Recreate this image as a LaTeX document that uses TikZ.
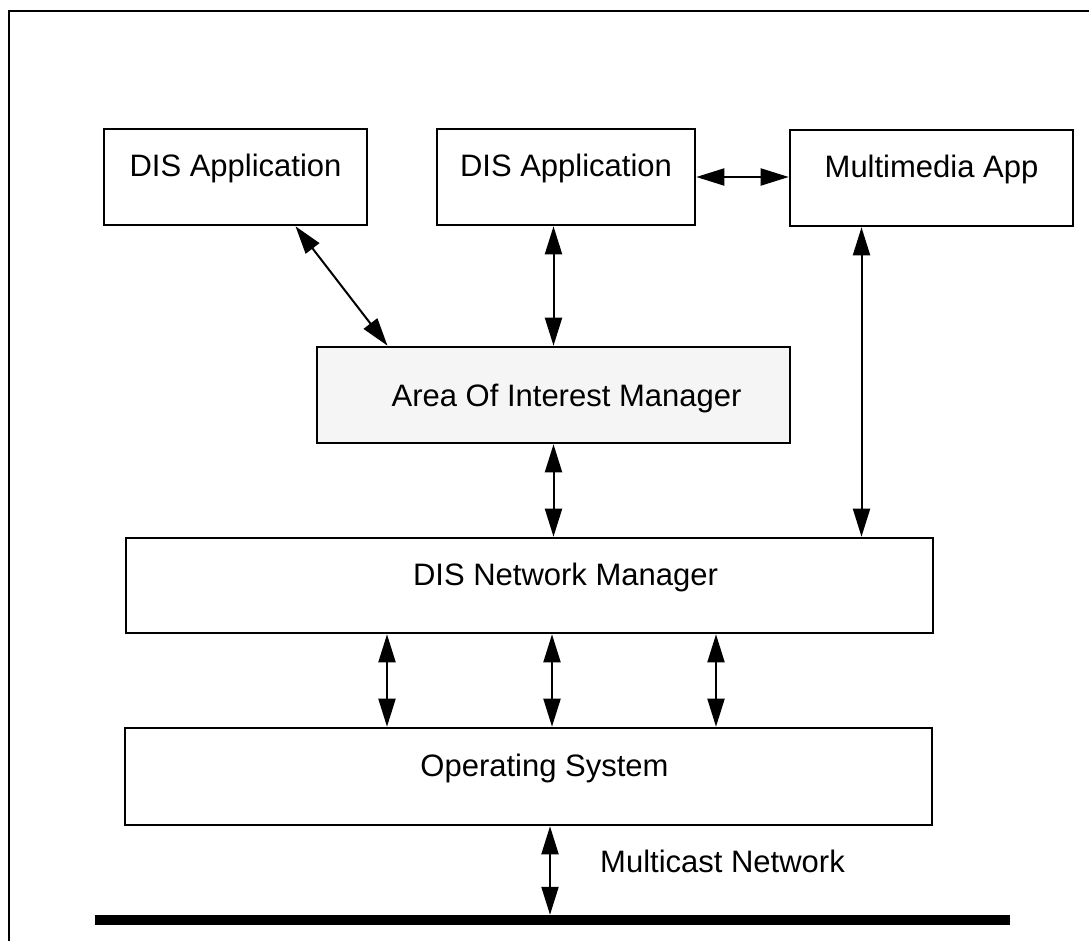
\documentclass[tikz,border=0pt]{standalone}
\usepackage{fontspec}
\setmainfont{Liberation Sans}
\usetikzlibrary{arrows.meta}

\begin{document}
\begin{tikzpicture}[
  x=1pt, y=-1pt,
  box/.style={draw, line width=2.6pt, minimum height=96pt, inner sep=0pt, text height=22pt, text depth=22pt, font=\fontsize{31pt}{37pt}\selectfont},
  shaded/.style={box, fill=black!4, text depth=0pt},
  biarrow/.style={line width=2pt, {Triangle[length=28pt, width=17pt]}-{Triangle[length=28pt, width=17pt]}},
  lbl/.style={font=\fontsize{31pt}{37pt}\selectfont, inner sep=0pt, anchor=west}
]
\useasboundingbox (0,0) rectangle (1089,941);
% frame of the scanned page, cut at right and bottom
\draw[line width=2pt] (9,941) -- (9,11) -- (1089,11);

\node[box, minimum width=263pt] (app1) at (235.5,177) {DIS Application};
\node[box, minimum width=258pt] (app2) at (566,177) {DIS Application};
\node[box, minimum width=283pt] (mm) at (931.5,178) {Multimedia App};
\node[shaded, minimum width=473pt] (aoi) at (553.5,395) {\hspace*{26pt}Area Of Interest Manager};
\node[box, minimum width=807pt, minimum height=95pt] (dnm) at (529.5,585.5) {\hspace*{72pt}DIS Network Manager};
\node[box, minimum width=807pt, minimum height=97pt] (os) at (528.5,776.5) {\hspace*{32pt}Operating System};
\node[fill, minimum width=915pt, minimum height=10pt, inner sep=0pt] (net) at (552.5,920) {};
\node[lbl] (netlbl) at (600,861) {Multicast Network};

\draw[biarrow] ([xshift=60pt]app1.south) -- ([xshift=-166pt]aoi.north);
\draw[biarrow] (aoi.north |- app2.south) -- (aoi.north);
\draw[biarrow] (app2.east) -- (app2.east -| mm.west);
\draw[biarrow] ([xshift=-70pt]mm.south) -- ([xshift=-70pt]mm.south |- dnm.north);
\draw[biarrow] (aoi.south) -- (aoi.south |- dnm.north);
\foreach \x in {387,552,716}
  \draw[biarrow] (dnm.south -| \x,0) -- (os.north -| \x,0);
\draw[biarrow] (os.south -| 550,0) -- (net.north -| 550,0);
\end{tikzpicture}
\end{document}
